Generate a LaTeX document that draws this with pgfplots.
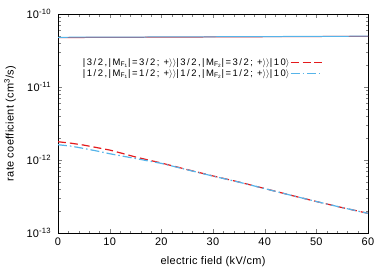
\documentclass[border=0pt]{standalone}
\usepackage{pgfplots}
\pgfplotsset{compat=1.18}
\usepackage{fontspec}
\setmainfont{Liberation Sans}
\newfontfamily\legfont[LetterSpace=16]{Liberation Sans}
\newfontfamily\labfont[LetterSpace=3]{Liberation Sans}
\definecolor{gred}{HTML}{E41A1C}
\definecolor{gblue}{HTML}{56B4E9}
\newcommand{\Mf}[1]{M\textsubscript{F\textsubscript{#1}}}
\begin{document}
\fontsize{11}{13}\selectfont
\begin{tikzpicture}
\begin{axis}[
  scale only axis, width=310bp, height=219bp,
  ymode=log, xmin=0, xmax=60, ymin=1e-13, ymax=1e-10,
  xtick={0,10,...,60}, minor x tick num=4,
  ytick={1e-13,1e-12,1e-11,1e-10},
  tick align=inside,
  ticklabel style={font=\labfont\fontsize{11}{13}\selectfont},
  /pgf/number format/assume math mode=true,
  yticklabel={\pgfmathparse{int(round(\tick/ln(10)))}10\textsuperscript{\pgfmathresult}},
  yticklabel style={xshift=-3bp},
  xticklabel style={yshift=-1bp},
  xlabel={electric field (kV/cm)},
  ylabel={rate coefficient (cm\textsuperscript{3}/s)},
  every axis x label/.style={at={(rel axis cs:0.5,0)}, yshift=-29bp, anchor=center, font=\labfont\fontsize{11}{13}\selectfont},
  every axis y label/.style={at={(rel axis cs:0,0.5)}, xshift=-48bp, rotate=90, anchor=center, font=\labfont\fontsize{11}{13}\selectfont},
  axis line style={black, line width=0.7pt},
  major tick length=4bp, minor tick length=2.5bp,
  legend plot pos=right,
  legend cell align=right,
  legend style={at={(0.078,0.803)}, anchor=north west, draw=none, fill=none,
    font=\legfont\fontsize{9.5}{11}\selectfont, row sep=0bp, inner sep=0bp,
    nodes={inner sep=0.5bp, text height=7.5bp, text depth=2.2bp},
    /tikz/every even column/.append style={column sep=8bp}},
  legend image code/.code={\draw[#1, line width=1.3pt] (0bp,0bp) -- (32bp,0bp);},
]
\addplot[draw=gred, line width=1pt, forget plot] coordinates {(0,4.75e-11) (60,4.95e-11)};
\addplot[draw=gblue, line width=1pt, forget plot] coordinates {(0,4.8e-11) (20,4.85e-11) (60,4.97e-11)};
\addplot[draw=gred, line width=1.2pt, dash pattern=on 8pt off 4pt] coordinates {
(0,1.78e-12) (2.5,1.70e-12) (5,1.60e-12) (7.5,1.48e-12) (10,1.37e-12) (12.5,1.23e-12) (15,1.10e-12) (17.5,1.00e-12) (20,9.1e-13)
(25,7.4e-13) (30,6.05e-13) (35,5.0e-13) (40,4.07e-13) (45,3.3e-13) (50,2.7e-13) (55,2.23e-13) (60,1.86e-13)};
\addlegendentry{|3/2,|\Mf{1}|=3/2; +$\rangle\rangle$|3/2,|\Mf{2}|=3/2; +$\rangle\rangle$|10$\rangle$}
\addplot[draw=gblue, line width=1.2pt, dash pattern=on 9pt off 3pt on 1.5pt off 3pt] coordinates {
(0,1.62e-12) (2.5,1.55e-12) (5,1.44e-12) (7.5,1.33e-12) (10,1.22e-12) (12.5,1.13e-12) (15,1.05e-12) (17.5,9.7e-13) (20,9.0e-13)
(25,7.35e-13) (30,6.02e-13) (35,4.98e-13) (40,4.06e-13) (45,3.3e-13) (50,2.7e-13) (55,2.23e-13) (60,1.86e-13)};
\addlegendentry{|1/2,|\Mf{1}|=1/2; +$\rangle\rangle$|1/2,|\Mf{2}|=1/2; +$\rangle\rangle$|10$\rangle$}
\end{axis}
\path (current axis.south west) ++(-58bp,-40bp) coordinate (bbA);
\path (current axis.north east) ++(22bp,14bp) coordinate (bbB);
\path (bbA) rectangle (bbB);
\end{tikzpicture}
\end{document}
